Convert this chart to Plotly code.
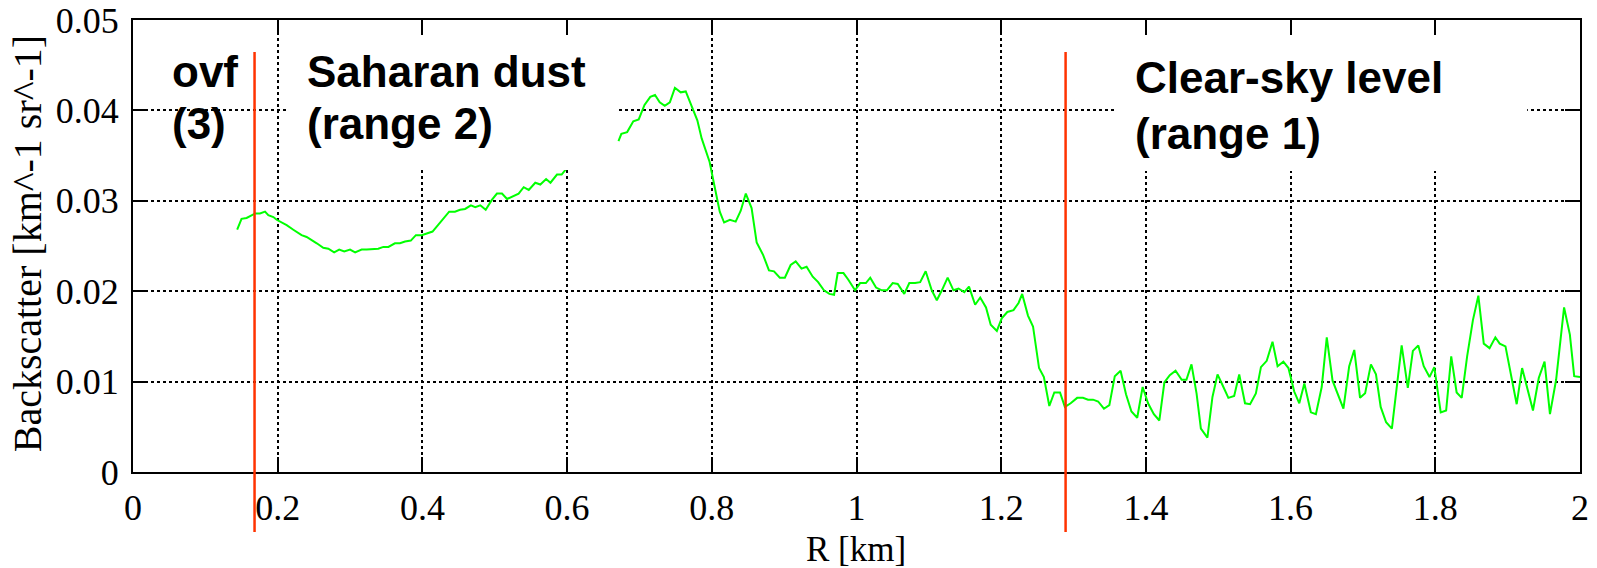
import plotly.graph_objects as go

# Lidar backscatter profile: range [km] and backscatter [km^-1 sr^-1].
# The None entry breaks the line where the profile runs under the label box.
range_km = [
    0.144, 0.150, 0.157, 0.164, 0.169, 0.1755, 0.1825, 0.187, 0.194, 0.1986,
    0.2055, 0.2124, 0.2216, 0.233, 0.240, 0.247, 0.254, 0.263, 0.270, 0.278,
    0.285, 0.292, 0.300, 0.307, 0.316, 0.323, 0.332, 0.339, 0.346, 0.353,
    0.362, 0.369, 0.376, 0.384, 0.391, 0.399, 0.414, 0.425, 0.437, 0.445,
    0.452, 0.459, 0.467, 0.473, 0.480, 0.4875, 0.496, 0.503, 0.510, 0.517,
    0.526, 0.533, 0.540, 0.547, 0.556, 0.563, 0.571, 0.577, 0.586, 0.5925,
    0.5985, 0.635,
    0.671, 0.675, 0.683, 0.6915, 0.699, 0.707, 0.715, 0.7215, 0.728, 0.735,
    0.742, 0.749, 0.757, 0.764, 0.772, 0.780, 0.786, 0.792, 0.797, 0.802,
    0.807, 0.811, 0.817, 0.825, 0.833, 0.840, 0.847, 0.855, 0.862, 0.871,
    0.879, 0.886, 0.894, 0.901, 0.909, 0.916, 0.924, 0.931, 0.9395, 0.947,
    0.955, 0.9625, 0.969, 0.974, 0.982, 0.9885, 0.998, 1.005, 1.013, 1.019,
    1.027, 1.035, 1.042, 1.050, 1.057, 1.066, 1.073, 1.081, 1.088, 1.0956,
    1.104, 1.111, 1.118, 1.126, 1.134, 1.141, 1.149, 1.1555, 1.164, 1.171,
    1.179, 1.1855, 1.194, 1.2007, 1.2085, 1.217, 1.224, 1.229, 1.237, 1.244,
    1.2523, 1.259, 1.2665, 1.2734, 1.2813, 1.288, 1.296, 1.305, 1.313, 1.320,
    1.327, 1.334, 1.342, 1.3495, 1.357, 1.365, 1.3725, 1.380, 1.388, 1.3955,
    1.403, 1.411, 1.4186, 1.4255, 1.433, 1.441, 1.4495, 1.456, 1.463, 1.470,
    1.476, 1.485, 1.492, 1.499, 1.506, 1.514, 1.522, 1.529, 1.537, 1.544,
    1.552, 1.559, 1.567, 1.575, 1.582, 1.590, 1.597, 1.605, 1.612, 1.619,
    1.628, 1.635, 1.643, 1.650, 1.658, 1.666, 1.673, 1.681, 1.688, 1.696,
    1.703, 1.711, 1.718, 1.7245, 1.732, 1.740, 1.747, 1.7535, 1.762, 1.769,
    1.7765, 1.784, 1.792, 1.7986, 1.8075, 1.815, 1.822, 1.8295, 1.8365, 1.844,
    1.852, 1.8595, 1.867, 1.875, 1.883, 1.889, 1.897, 1.905, 1.9125, 1.920,
    1.928, 1.935, 1.943, 1.951, 1.9585, 1.967, 1.978, 1.986, 1.992, 2.000,
]
backscatter = [
    0.0268, 0.0280, 0.0281, 0.0284, 0.0286, 0.0286, 0.0288, 0.0284, 0.0282, 0.0279,
    0.0276, 0.0273, 0.0268, 0.0262, 0.0260, 0.0256, 0.0253, 0.0248, 0.0247, 0.0243,
    0.0246, 0.0244, 0.0246, 0.0243, 0.0246, 0.0246, 0.0247, 0.0247, 0.0249, 0.0249,
    0.0253, 0.0253, 0.0255, 0.0256, 0.0262, 0.0262, 0.0266, 0.0277, 0.0288, 0.0288,
    0.0290, 0.0291, 0.0295, 0.0293, 0.0295, 0.0290, 0.0301, 0.0308, 0.0308, 0.0302,
    0.0305, 0.0308, 0.0315, 0.0312, 0.0320, 0.0318, 0.0324, 0.0320, 0.0329, 0.0329,
    0.0335, None,
    0.0366, 0.0374, 0.0376, 0.0388, 0.0390, 0.0406, 0.0415, 0.0417, 0.0409, 0.0405,
    0.0409, 0.0425, 0.0420, 0.0421, 0.0405, 0.0389, 0.0369, 0.0354, 0.0343, 0.0323,
    0.0305, 0.0288, 0.0276, 0.0279, 0.0277, 0.0289, 0.0308, 0.0292, 0.0254, 0.0240,
    0.0223, 0.0222, 0.0215, 0.0215, 0.0229, 0.0233, 0.0225, 0.0227, 0.0216, 0.0210,
    0.0201, 0.0197, 0.0196, 0.0220, 0.0220, 0.0213, 0.0201, 0.0209, 0.0209, 0.0215,
    0.0204, 0.0201, 0.0201, 0.0209, 0.0208, 0.0197, 0.0209, 0.0209, 0.0210, 0.0222,
    0.0201, 0.0190, 0.0201, 0.0215, 0.0201, 0.0203, 0.0199, 0.0205, 0.0185, 0.0193,
    0.0182, 0.0163, 0.0156, 0.0170, 0.0177, 0.0179, 0.0187, 0.0197, 0.0173, 0.0161,
    0.0115, 0.0105, 0.0073, 0.0088, 0.0088, 0.0072, 0.0076, 0.0082, 0.0082, 0.0080,
    0.0080, 0.0078, 0.0070, 0.0074, 0.0106, 0.0112, 0.0086, 0.0067, 0.0060, 0.0094,
    0.0076, 0.0064, 0.0057, 0.0099, 0.0107, 0.0112, 0.0102, 0.0102, 0.0119, 0.0087,
    0.0048, 0.0038, 0.0083, 0.0108, 0.0096, 0.0082, 0.0084, 0.0108, 0.0076, 0.0075,
    0.0087, 0.0116, 0.0123, 0.0144, 0.0117, 0.0122, 0.0115, 0.0089, 0.0076, 0.0098,
    0.0066, 0.0064, 0.0094, 0.0149, 0.0101, 0.0085, 0.0070, 0.0117, 0.0135, 0.0082,
    0.0087, 0.0119, 0.0108, 0.0072, 0.0055, 0.0048, 0.0098, 0.0140, 0.0093, 0.0134,
    0.0140, 0.0117, 0.0105, 0.0116, 0.0066, 0.0068, 0.0128, 0.0088, 0.0082, 0.0128,
    0.0168, 0.0195, 0.0142, 0.0137, 0.0149, 0.0142, 0.0139, 0.0107, 0.0075, 0.0115,
    0.0091, 0.0068, 0.0104, 0.0122, 0.0064, 0.0102, 0.0182, 0.0152, 0.0106, 0.0105,
]

# Range boundaries [km]
overflow_end_km = 0.168
clear_sky_start_km = 1.289

x_tick_vals = [0, 0.2, 0.4, 0.6, 0.8, 1.0, 1.2, 1.4, 1.6, 1.8, 2.0]
x_tick_text = ["0", "0.2", "0.4", "0.6", "0.8", "1", "1.2", "1.4", "1.6", "1.8", "2"]
y_tick_vals = [0, 0.01, 0.02, 0.03, 0.04, 0.05]
y_tick_text = ["0", "0.01", "0.02", "0.03", "0.04", "0.05"]

# Region labels: (x, y, text) per line
region_lines = [
    (0.0515, 0.04430, "ovf"),
    (0.0515, 0.03855, "(3)"),
    (0.2377, 0.04430, "Saharan dust"),
    (0.2377, 0.03855, "(range 2)"),
    (1.3815, 0.04364, "Clear-sky level"),
    (1.3815, 0.03745, "(range 1)"),
]
# White panels behind the multi-line labels: (x0, x1, y0, y1)
label_panels = [
    (0.2115, 0.669, 0.0334, 0.0482),
    (1.356, 1.927, 0.0333, 0.0482),
]

serif = "Liberation Serif, Times New Roman, serif"
sans_bold = "Liberation Sans, Arial, Helvetica, sans-serif"

fig = go.Figure()
fig.add_trace(go.Scatter(
    x=range_km, y=backscatter, mode="lines",
    line=dict(color="#00ff00", width=2),
    connectgaps=False, showlegend=False, hoverinfo="x+y",
))

shapes = []
for x0, x1, y0, y1 in label_panels:
    shapes.append(dict(type="rect", xref="x", yref="y", x0=x0, x1=x1, y0=y0, y1=y1,
                       fillcolor="white", line=dict(width=0), layer="above"))
for xb in (overflow_end_km, clear_sky_start_km):
    shapes.append(dict(type="line", xref="x", yref="paper", x0=xb, x1=xb,
                       y0=-0.1327, y1=0.929,
                       line=dict(color="#ff3300", width=2.5), layer="above"))

annotations = [
    dict(x=x, y=y, xref="x", yref="y", text=t, showarrow=False,
         xanchor="left", yanchor="middle",
         font=dict(family=sans_bold, size=44, color="black", weight="bold"))
    for x, y, t in region_lines
]
# Axis titles
annotations.append(dict(
    x=0.4995, y=-0.1715, xref="paper", yref="paper", text="R [km]",
    showarrow=False, xanchor="center", yanchor="middle",
    font=dict(family=serif, size=35, color="black"),
))
annotations.append(dict(
    x=-0.0729, y=0.505, xref="paper", yref="paper",
    text="Backscatter [km^-1 sr^-1]", textangle=-90,
    showarrow=False, xanchor="center", yanchor="middle",
    font=dict(family=serif, size=40, color="black"),
))

axis_common = dict(
    showline=True, linecolor="black", linewidth=2, mirror="ticks",
    ticks="inside", ticklen=15, tickwidth=2, tickcolor="black",
    showgrid=True, gridcolor="black", gridwidth=1.5, griddash="dot",
    zeroline=False, automargin=False,
    tickfont=dict(family=serif, size=36, color="black"),
)

fig.update_xaxes(
    range=[0, 2], tickmode="array", tickvals=x_tick_vals, ticktext=x_tick_text,
    ticklabelstandoff=3,
    **axis_common,
)
fig.update_yaxes(
    range=[0, 0.05], tickmode="array", tickvals=y_tick_vals, ticktext=y_tick_text,
    ticklabelstandoff=5,
    **axis_common,
)

fig.update_layout(
    width=1597, height=568,
    margin=dict(l=133, r=17, t=20, b=96),
    paper_bgcolor="white", plot_bgcolor="white",
    shapes=shapes, annotations=annotations,
    showlegend=False,
)

fig.write_html("out.html")
